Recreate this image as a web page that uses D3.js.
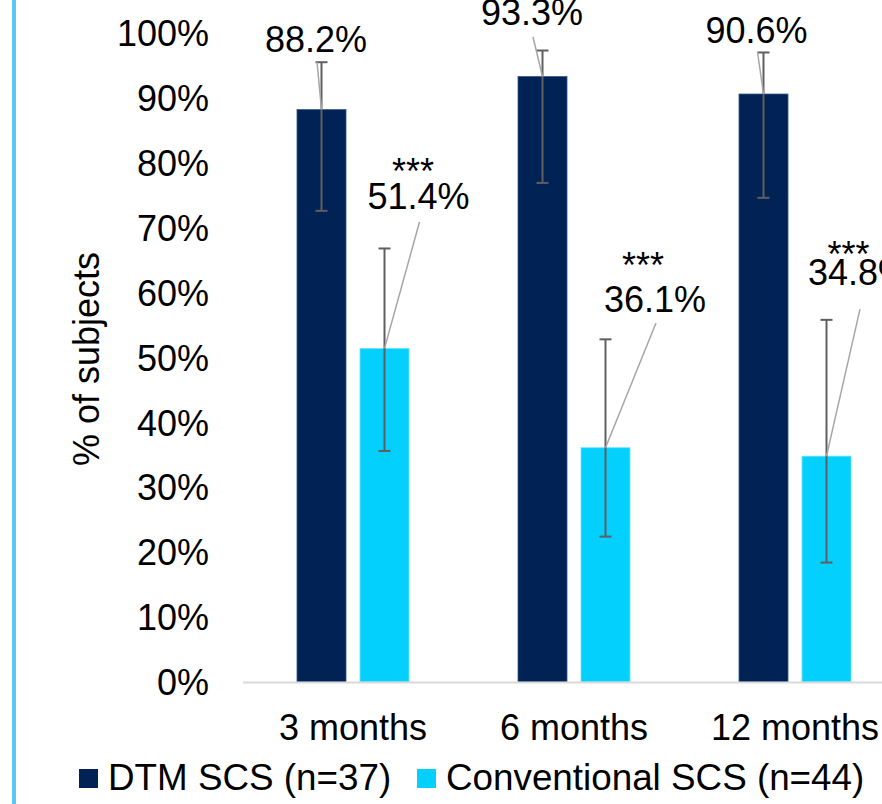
<!DOCTYPE html>
<html>
<head>
<meta charset="utf-8">
<script src="https://cdn.jsdelivr.net/npm/d3@7"></script>
<style>
  html, body { margin: 0; padding: 0; background: #ffffff; }
  svg { display: block; }
  text { font-family: "Liberation Sans", Arial, sans-serif; fill: #000; }
</style>
</head>
<body>
<svg id="chart" width="882" height="804"></svg>
<script>
// ---- data ----
const categories = ["3 months", "6 months", "12 months"];
const seriesNames = ["DTM SCS (n=37)", "Conventional SCS (n=44)"];
const dtmValues = [88.2, 93.3, 90.6];
const dtmLow = [72.6, 76.9, 74.6];
const dtmHigh = [95.5, 97.3, 97.0];
const convValues = [51.4, 36.1, 34.8];
const convLow = [35.6, 22.4, 18.4];
const convHigh = [66.8, 52.8, 55.8];
const convSignificance = ["***", "***", "***"];
const yTicks = [0, 10, 20, 30, 40, 50, 60, 70, 80, 90, 100];

// ---- layout & style ----
const colors = ["#012255", "#04d0fe"];
const font = 36;
const legendFont = 36.8;
// label placement relative to the bar top centre: [dx, dy(baseline), leaderDy]
const labelPlacement = [
  [[-5.5, -57.6, 10], [-10.5, -51.5, 12], [-7, -51, 9]],
  [[34, -139.4, 13], [49.5, -135.7, 11], [32.5, -171, 24]]
];
// significance markers relative to the value label: [dx, dy]
const starPlacement = [[-5.5, -25], [-12, -34], [-10.5, -18]];

const svg = d3.select("#chart");

// left accent rule
svg.append("rect").attr("x", 12).attr("y", 0).attr("width", 4).attr("height", 804)
  .attr("fill", "#5cc6f7");

const x0 = d3.scaleBand().domain(categories).range([242.5, 905.5]).padding(0);
const x1 = d3.scaleBand().domain([0, 1]).range([0, x0.bandwidth()])
  .paddingInner(0.222).paddingOuter(0.865);
const y = d3.scaleLinear().domain([0, 100]).range([682, 33]);

const rows = [
  { values: dtmValues, low: dtmLow, high: dtmHigh },
  { values: convValues, low: convLow, high: convHigh }
];

// y tick labels (no axis line, no gridlines)
const yAxis = d3.axisLeft(y).tickValues(yTicks).tickSize(0).tickPadding(0)
  .tickFormat(d => d + "%");
const yg = svg.append("g").attr("transform", "translate(209,0)").call(yAxis);
yg.select(".domain").remove();
yg.selectAll("text")
  .style("font-family", '"Liberation Sans", Arial, sans-serif')
  .style("font-size", font + "px").attr("fill", "#000").attr("dy", "0.35em");

// y title
svg.append("text")
  .attr("transform", "translate(99,359) rotate(-90)")
  .attr("text-anchor", "middle")
  .style("font-size", font + "px")
  .text("% of subjects");

// bars
rows.forEach((row, s) => {
  svg.append("g").selectAll("rect").data(categories).join("rect")
    .attr("x", c => x0(c) + x1(s))
    .attr("y", (c, i) => y(row.values[i]))
    .attr("width", x1.bandwidth())
    .attr("height", (c, i) => y(0) - y(row.values[i]))
    .attr("fill", colors[s])
    .attr("stroke", s === 0 ? "#3a5a8a" : "#6fe3ff")
    .attr("stroke-width", 0.8);
});

// category axis
const xAxis = d3.axisBottom(x0).tickSize(0).tickPadding(0);
const xg = svg.append("g").attr("transform", "translate(0,682)").call(xAxis);
xg.select(".domain").attr("stroke", "#d9d9d9").attr("stroke-width", 2);
xg.selectAll("text")
  .style("font-family", '"Liberation Sans", Arial, sans-serif')
  .style("font-size", font + "px").attr("fill", "#000")
  .attr("y", 0).attr("dy", 0).attr("transform", "translate(0,58)");

// error bars
rows.forEach((row, s) => {
  const g = svg.append("g").attr("stroke", "#5f5f5f").attr("stroke-width", 2).attr("fill", "none");
  categories.forEach((c, i) => {
    const cx = x0(c) + x1(s) + x1.bandwidth() / 2;
    const yl = y(row.low[i]), yh = y(row.high[i]);
    g.append("line").attr("x1", cx).attr("x2", cx).attr("y1", yh).attr("y2", yl);
    g.append("line").attr("x1", cx - 6).attr("x2", cx + 6).attr("y1", yh).attr("y2", yh);
    g.append("line").attr("x1", cx - 6).attr("x2", cx + 6).attr("y1", yl).attr("y2", yl);
  });
});

// value labels with leader lines
rows.forEach((row, s) => {
  categories.forEach((c, i) => {
    const cx = x0(c) + x1(s) + x1.bandwidth() / 2;
    const top = y(row.values[i]);
    const [dx, dy, ldy] = labelPlacement[s][i];
    const lx = cx + dx, ly = top + dy;
    svg.append("line")
      .attr("x1", lx + 1).attr("y1", ly + ldy)
      .attr("x2", cx).attr("y2", top)
      .attr("stroke", "#a6a6a6").attr("stroke-width", 1.5);
    svg.append("text")
      .attr("x", lx).attr("y", ly)
      .attr("text-anchor", "middle")
      .style("font-size", font + "px")
      .text(row.values[i].toFixed(1) + "%");
    if (s === 1) {
      const [sx, sy] = starPlacement[i];
      svg.append("text")
        .attr("x", lx + sx).attr("y", ly + sy)
        .attr("text-anchor", "middle")
        .style("font-size", font + "px")
        .text(convSignificance[i]);
    }
  });
});

// legend
const legend = svg.append("g");
const legendX = [79, 417];
seriesNames.forEach((name, s) => {
  legend.append("rect").attr("x", legendX[s]).attr("y", 769)
    .attr("width", 19).attr("height", 19).attr("fill", colors[s]);
  legend.append("text").attr("x", legendX[s] + 29).attr("y", 790)
    .style("font-size", legendFont + "px").text(name);
});
</script>
</body>
</html>
